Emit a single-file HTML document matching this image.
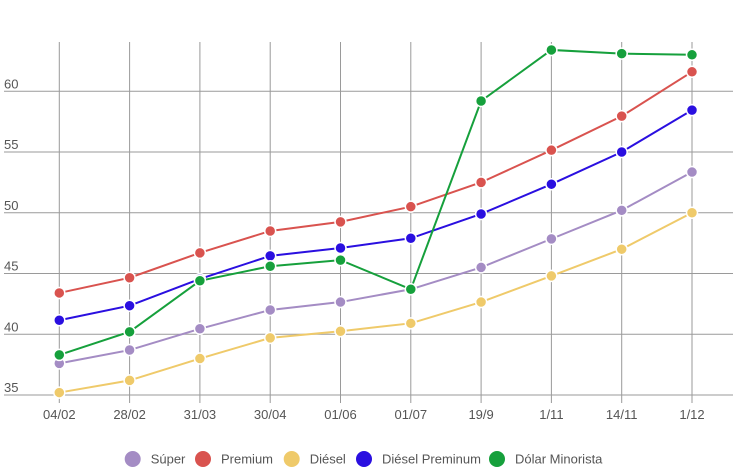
<!DOCTYPE html>
<html><head><meta charset="utf-8"><style>
html,body{margin:0;padding:0;background:#fff;}
svg{display:block;font-family:"Liberation Sans",sans-serif;}
</style></head><body>
<svg id="chart" width="733" height="475"></svg>
<script>
const categories=["04/02","28/02","31/03","30/04","01/06","01/07","19/9","1/11","14/11","1/12"];
const yTicks=[35,40,45,50,55,60];
const superVals=[37.6,38.7,40.45,42.0,42.65,43.7,45.5,47.85,50.2,53.35];
const premiumVals=[43.4,44.65,46.7,48.5,49.25,50.5,52.5,55.15,57.95,61.6];
const dieselVals=[35.2,36.2,38.0,39.7,40.25,40.9,42.65,44.8,47.0,50.0];
const dieselPremVals=[41.15,42.35,44.55,46.45,47.1,47.9,49.9,52.35,55.0,58.45];
const dolarVals=[38.3,40.2,44.4,45.6,46.1,43.7,59.2,63.4,63.1,63.0];
const seriesNames=["Súper","Premium","Diésel","Diésel Preminum","Dólar Minorista"];
const seriesKeys=["super","premium","diesel","diesel-premium","dolar"];
const colors=["#a48cc4","#d9534f","#efca6a","#2a0fe0","#16a03c"];
const seriesData=[superVals,premiumVals,dieselVals,dieselPremVals,dolarVals];

const NS="http://www.w3.org/2000/svg";
const svg=document.getElementById('chart');
const x=i=>59.3+i*70.3;
const y=v=>395-(v-35)*12.15;
function mk(tag,attrs,parent){const e=document.createElementNS(NS,tag);for(const k in attrs)e.setAttribute(k,attrs[k]);(parent||svg).appendChild(e);return e;}

const grid=mk('g',{});


yTicks.forEach(t=>{
  const l=mk('line',{x1:4,x2:733,y1:y(t),y2:y(t),stroke:'#9a9a9a','stroke-width':1},grid);
  
  
  const tx=mk('text',{x:4,y:y(t)-3,fill:'#555','font-size':13},grid);
  
  
  tx.textContent=t;
});
categories.forEach((c,i)=>{
  const l=mk('line',{x1:x(i),x2:x(i),y1:42,y2:403,stroke:'#9a9a9a','stroke-width':1},grid);
  
  
  const tx=mk('text',{x:x(i),y:419,fill:'#555','font-size':13,'text-anchor':'middle'},grid);
  
  
  tx.textContent=c;
});

seriesData.forEach((vals,s)=>{
  const g=mk('g',{});
  
  
  const p=mk('polyline',{points:vals.map((v,i)=>x(i)+','+y(v)).join(' '),fill:'none',stroke:colors[s],'stroke-width':2},g);
  
  
  vals.forEach((v,i)=>{
    const c=mk('circle',{cx:x(i),cy:y(v),r:5.5,fill:colors[s],stroke:'#fff','stroke-width':1.5},g);
    
    
  });
});

const legendX=[132.7,203,291.7,364,497];
const leg=mk('g',{});


seriesNames.forEach((n,s)=>{
  const g=mk('g',{},leg);
  
  
  mk('circle',{cx:legendX[s],cy:459,r:8,fill:colors[s]},g);
  const t=mk('text',{x:legendX[s]+18,y:463.5,fill:'#555','font-size':13},g);
  t.textContent=n;
});
</script>
</body></html>
